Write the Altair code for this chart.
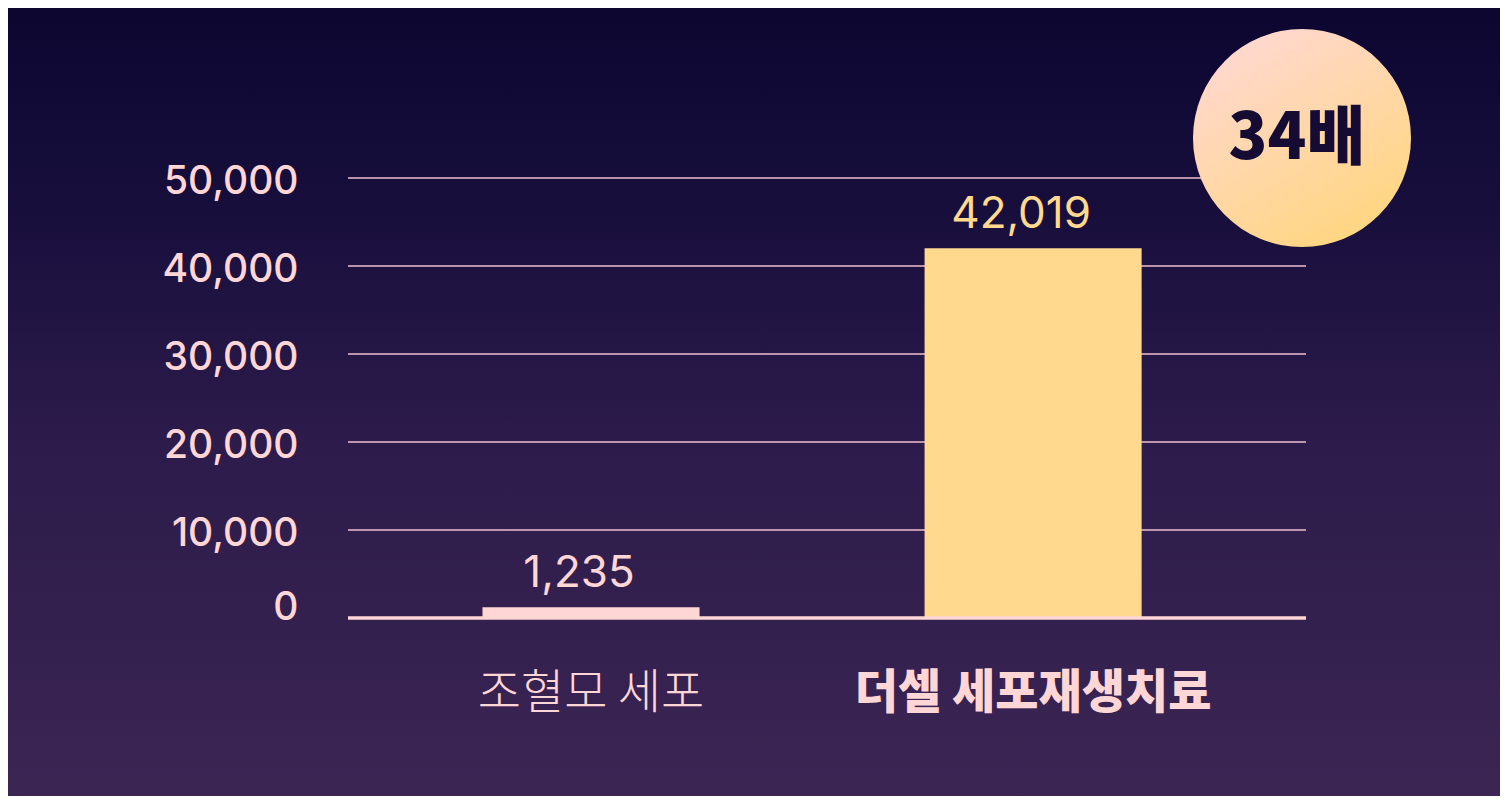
import altair as alt
import pandas as pd

# ---- data ----
categories = ["조혈모 세포", "더셀 세포재생치료"]
values = [1235, 42019]
bar_colors = ["#ffd6d6", "#ffd98e"]
y_ticks = [0, 10000, 20000, 30000, 40000, 50000]
grid_values = [10000, 20000, 30000, 40000, 50000]
badge_text = ["34배"]

df = pd.DataFrame({"cat": categories, "value": values})
grid_df = pd.DataFrame({"value": grid_values})
zero_df = pd.DataFrame({"value": [0]})
one_df = pd.DataFrame({"a": [0]})
badge_df = pd.DataFrame({"t": badge_text})

W, H = 958, 440
PL, PT, PR, PB = 340, 170, 194, 178

x_scale = alt.Scale(domain=categories, paddingInner=0.509, paddingOuter=0.338, align=0.45)
y_scale = alt.Scale(domain=[0, 50000], nice=False)
color_scale = alt.Scale(domain=categories, range=bar_colors)

y_axis = alt.Axis(
    values=y_ticks, format=",.0f", grid=False, domain=False, ticks=False, title=None,
    labelFont="Inter", labelFontSize=39, labelFontWeight=500, labelColor="#ffd6d6",
    labelPadding=50, zindex=1,
    labelOffset={"condition": {"test": "datum.value === 0", "value": -11}, "value": 3},
)
x_axis = alt.Axis(
    title=None, labelAngle=0, domain=False, ticks=False, zindex=1, labelLimit=0,
    labelFont="Noto Sans CJK KR", labelFontSize=47, labelColor="#ffd6d6",
    labelPadding=52,
    labelFontWeight={"condition": {"test": "datum.value === '더셀 세포재생치료'", "value": 900}, "value": 300},
)

bg_grad = alt.LinearGradient(
    gradient="linear", x1=0, y1=0, x2=0, y2=1,
    stops=[
        alt.GradientStop(offset=0, color="#0c0631"),
        alt.GradientStop(offset=0.25, color="#170e3c"),
        alt.GradientStop(offset=0.55, color="#2c1b4b"),
        alt.GradientStop(offset=1, color="#3b2553"),
    ],
)

bg = alt.Chart(one_df).mark_rect(fill=bg_grad).encode(
    x=alt.value(-PL), x2=alt.value(W + PR), y=alt.value(-PT), y2=alt.value(H + PB)
)

grid = alt.Chart(grid_df).mark_rule(color="#efbfcf", strokeWidth=1.5).encode(
    y=alt.Y("value:Q", scale=y_scale, axis=y_axis)
)

bars = alt.Chart(df).mark_bar().encode(
    x=alt.X("cat:N", scale=x_scale, sort=categories, axis=x_axis),
    y=alt.Y("value:Q", scale=y_scale, axis=y_axis),
    color=alt.Color("cat:N", scale=color_scale, legend=None),
)

labels = alt.Chart(df).mark_text(
    font="Inter", fontSize=44, baseline="alphabetic", align="center", dy=-20, dx=-12
).encode(
    x=alt.X("cat:N", scale=x_scale, sort=categories, axis=x_axis),
    y=alt.Y("value:Q", scale=y_scale, axis=y_axis),
    text=alt.Text("value:Q", format=","),
    color=alt.Color("cat:N", scale=color_scale, legend=None),
)

zero_rule = alt.Chart(zero_df).mark_rule(color="#ffd6d6", strokeWidth=3.5).encode(
    y=alt.Y("value:Q", scale=y_scale, axis=y_axis)
)

badge_grad = alt.LinearGradient(
    gradient="linear", x1=0.2, y1=0, x2=0.8, y2=1,
    stops=[
        alt.GradientStop(offset=0, color="#ffd8d3"),
        alt.GradientStop(offset=1, color="#ffd67c"),
    ],
)

badge = alt.Chart(badge_df).mark_circle(size=218 * 218, fill=badge_grad, opacity=1).encode(
    x=alt.value(954), y=alt.value(-40)
)

badge_label = alt.Chart(badge_df).mark_text(
    font="Noto Sans CJK KR", fontSize=64, fontWeight=900, color="#150b33",
    baseline="middle", align="center",
).encode(x=alt.value(949), y=alt.value(-38), text="t:N")

chart = alt.layer(bg, grid, bars, labels, zero_rule, badge, badge_label).properties(
    width=W, height=H,
    padding={"left": PL, "top": PT, "right": PR, "bottom": PB},
    autosize=alt.AutoSizeParams(type="none"),
    background="#1a1040",
).configure_view(stroke=None)

chart.save("out.html", embed_options={"renderer": "svg", "actions": False})
